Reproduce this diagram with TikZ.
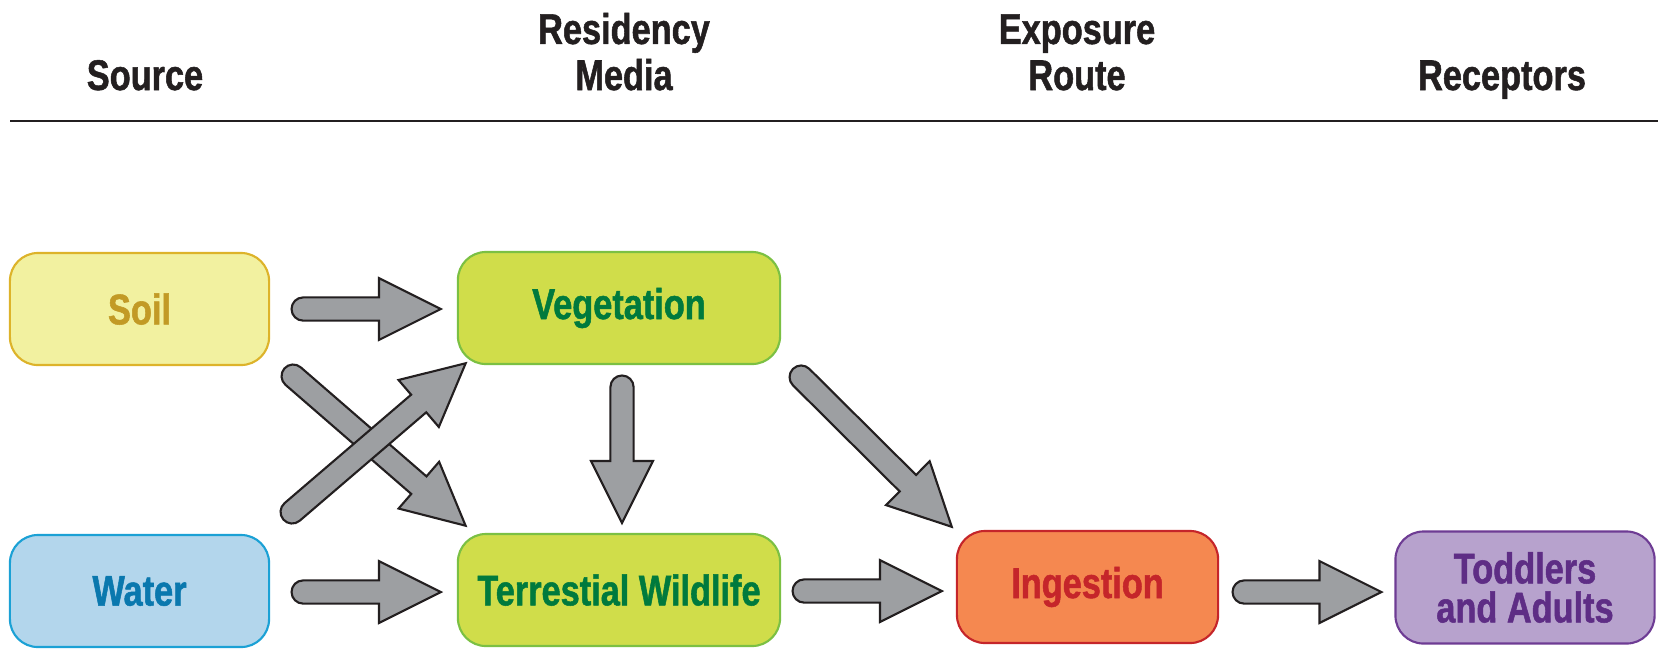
\documentclass[tikz,border=0pt]{standalone}
\usepackage{fontspec}
\setmainfont{Liberation Sans}[FakeStretch=0.8,BoldFeatures={FakeBold=1.2}]
\usetikzlibrary{calc}
\definecolor{soilfill}{HTML}{F2F1A0}
\definecolor{soilline}{HTML}{DDB32A}
\definecolor{soiltext}{HTML}{C29A25}
\definecolor{waterfill}{HTML}{B3D6EC}
\definecolor{waterline}{HTML}{1BA1D5}
\definecolor{watertext}{HTML}{0A78AE}
\definecolor{greenfill}{HTML}{D0DD4A}
\definecolor{greenline}{HTML}{7BC043}
\definecolor{greentext}{HTML}{007A3D}
\definecolor{ingfill}{HTML}{F58850}
\definecolor{ingline}{HTML}{C5252A}
\definecolor{recfill}{HTML}{B7A2CD}
\definecolor{recline}{HTML}{6E3C94}
\definecolor{rectext}{HTML}{5E2D85}
\definecolor{arrowfill}{HTML}{9D9FA2}
\definecolor{arrowline}{HTML}{231F20}
\newcommand{\fatarrow}[2]{%
  \draw[fat] let \p1=(#1), \p2=(#2), \n1={atan2(\y2-\y1,\x2-\x1)}, \n2={veclen(\x2-\x1,\y2-\y1)} in
    [shift={(\p1)},rotate=\n1] (0pt,3.3pt) -- (\n2-17.6pt,3.3pt) -- (\n2-17.6pt,8.8pt) -- (\n2,0pt)
    -- (\n2-17.6pt,-8.8pt) -- (\n2-17.6pt,-3.3pt) -- (0pt,-3.3pt) arc[start angle=270,end angle=90,radius=3.3pt] -- cycle;}
\begin{document}
\begin{tikzpicture}[x=0.01cm,y=-0.01cm,
    box/.style={draw,line width=0.6pt,rounded corners=0.28cm,minimum height=1.12cm,inner sep=0pt,align=center,font=\fontsize{12.2}{11.1}\selectfont\bfseries},
    soilbox/.style={box,minimum width=2.59cm,fill=soilfill,draw=soilline,text=soiltext},
    waterbox/.style={box,minimum width=2.59cm,fill=waterfill,draw=waterline,text=watertext},
    greenbox/.style={box,minimum width=3.22cm,fill=greenfill,draw=greenline,text=greentext},
    ingbox/.style={box,minimum width=2.61cm,fill=ingfill,draw=ingline,text=ingline},
    recbox/.style={box,minimum width=2.59cm,fill=recfill,draw=recline,text=rectext},
    head/.style={anchor=base,inner sep=0pt,align=center,text=arrowline,font=\fontsize{12.2}{13.1}\selectfont\bfseries},
    fat/.style={fill=arrowfill,draw=arrowline,line width=0.6pt}]
  \useasboundingbox (0,0) rectangle (1658,654);
  \node[head] (hsource) at (145,90) {Source};
  \node[head] (hmedia) at (624,90) {Residency\\Media};
  \node[head] (hroute) at (1077,90) {Exposure\\Route};
  \node[head] (hrecept) at (1502,90) {Receptors};
  \coordinate (rulel) at (10,121);
  \coordinate (ruler) at (1658,121);
  \draw[line width=0.6pt,arrowline] (rulel) -- (ruler);
  \node[soilbox] (soil) at (139.5,309) {Soil};
  \node[waterbox] (water) at (139.5,591) {Water};
  \node[greenbox] (veg) at (619,308) {Vegetation};
  \node[greenbox] (wild) at (619,590) {Terrestial Wildlife};
  \node[ingbox] (ing) at (1087.5,587) {Ingestion};
  \node[recbox] (rec) at (1525,587.5) {Toddlers\\and Adults};
  \fatarrow{$(soil.east)+(33,0)$}{$(veg.west)+(-16,1)$}
  \fatarrow{$(water.east)+(33,1)$}{$(wild.west)+(-16,2)$}
  \fatarrow{$(soil.south east)+(23,10)$}{$(wild.north west)+(9,-7)$}
  \fatarrow{$(water.north east)+(22,-22)$}{$(veg.south west)+(9,-2)$}
  \fatarrow{$(veg.south)+(3,22)$}{$(wild.north)+(3,-10)$}
  \fatarrow{$(veg.south east)+(20,12)$}{$(ing.north west)+(-4,-3)$}
  \fatarrow{$(wild.east)+(23,1)$}{$(ing.west)+(-14,4)$}
  \fatarrow{$(ing.east)+(25,5)$}{$(rec.west)+(-13,4.5)$}
\end{tikzpicture}
\end{document}
